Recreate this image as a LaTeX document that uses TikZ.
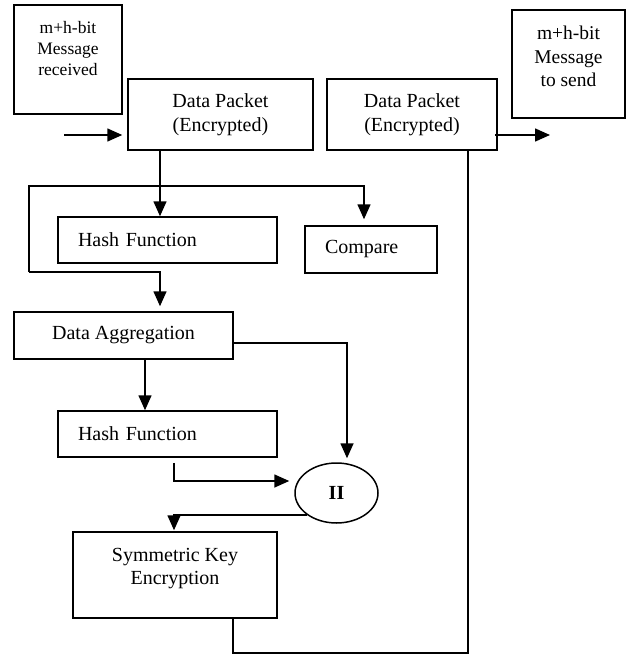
\documentclass[tikz,border=0pt]{standalone}
\usepackage{fontspec}
\setmainfont{Liberation Serif}
\usetikzlibrary{arrows.meta,shapes.geometric,calc}

\begin{document}
\begin{tikzpicture}[x=1pt,y=-1pt,
  line width=1.6pt,
  box/.style={draw, line width=1.5pt, inner sep=0pt, align=center,
    font=\fontsize{20}{24}\selectfont},
  lbox/.style={box, align=left, inner xsep=20pt, inner ysep=0pt},
  toptext/.style={anchor=north, inner sep=0pt, align=center},
  arr/.style={-{Triangle[length=15pt,width=13pt]}}]

\useasboundingbox (0,0) rectangle (626,658);

% message boxes
\node[box, minimum width=108pt, minimum height=109pt,
  label={[toptext, yshift=-16pt, font=\fontsize{17.5}{21}\selectfont]north:m+h-bit\\Message\\received}]
  (recv) at (68,59.5) {};
\node[box, minimum width=113pt, minimum height=108pt,
  label={[toptext, yshift=-16pt, font=\fontsize{19.5}{23.5}\selectfont]north:m+h-bit\\Message\\to send}]
  (send) at (568.5,64) {};

% data packets
\node[box, minimum width=185pt, minimum height=71pt] (dp1) at (220.5,114.5) {Data Packet\\(Encrypted)};
\node[box, minimum width=170pt, minimum height=71pt] (dp2) at (412,114.5) {Data Packet\\(Encrypted)};

% processing blocks
\node[lbox, text width=179pt, minimum height=46pt] (hf1) at (167.5,240) {Hash Function};
\node[lbox, text width=92pt, minimum height=47pt] (cmp) at (371,249.5) {Compare};
\node[box, minimum width=219pt, minimum height=47pt] (da) at (123.5,335.5) {Data Aggregation};
\node[lbox, text width=179pt, minimum height=46pt] (hf2) at (167.5,434) {Hash Function};
\node[draw, ellipse, line width=1.5pt, minimum width=83pt, minimum height=60pt, inner sep=0pt,
  font=\fontsize{20}{24}\selectfont\bfseries] (cat) at (336.5,493) {II};
\node[box, minimum width=204pt, minimum height=86pt,
  label={[toptext, yshift=-16pt, font=\fontsize{20}{23}\selectfont]north:Symmetric Key\\Encryption}]
  (ske) at (175,575) {};

% connectors
\coordinate (inA) at (64,135);
\coordinate (outA) at (550,135);
\draw[arr, shorten >=5pt] (inA) -- (dp1.west |- inA);
\draw[arr] (dp1.south -| 160,0) -- (hf1.north -| 160,0);
\draw[arr, shorten >=6pt] (29,272) -- (29,186) -| (cmp.north -| 364,0);
\draw[arr, shorten >=5pt] (29,272) -| (da.north -| 160,0);
\draw[arr] (da.south -| 145,0) -- (hf2.north -| 145,0);
\draw[arr, shorten >=4pt] (da.east |- 0,343) -| (cat.north -| 347,0);
\draw[arr, shorten >=5pt] ($(hf2.south -| 174,0)+(0,5)$) |- (cat.west |- 0,481);
\draw[arr, shorten >=1pt] (cat.south west) -| (ske.north -| 174,0);
\draw (ske.south -| 233,0) -- (233,653) -| (dp2.south -| 468,0);
\draw[arr] ($(dp2.east |- outA)+(-3,0)$) -- (outA);

\end{tikzpicture}
\end{document}
